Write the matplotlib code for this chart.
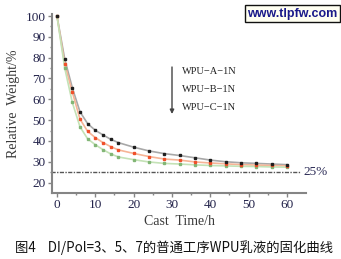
import numpy as np
import matplotlib
matplotlib.use("Agg")
import matplotlib.pyplot as plt

# cast time (h) and relative weight (%) for the three emulsions
cast_time = [0, 2, 4, 6, 8, 10, 12, 14, 16, 20, 24, 28, 32, 36, 40, 44, 48, 52, 56, 60]
weight_a = [100, 79.5, 65.5, 54.0, 48.3, 45.1, 42.9, 40.8, 39.2, 37.0, 35.2, 33.9,
            33.0, 31.9, 30.8, 30.0, 29.5, 29.2, 28.9, 28.6]
weight_b = [100, 77.2, 63.5, 50.5, 44.6, 41.6, 39.2, 37.3, 35.7, 34.0, 32.5, 31.3,
            30.8, 29.9, 29.4, 29.0, 28.6, 28.4, 28.2, 28.0]
weight_c = [100, 75.2, 58.5, 46.8, 41.0, 38.2, 35.8, 33.8, 32.3, 31.0, 29.9, 29.2,
            28.9, 28.5, 28.2, 28.0, 27.8, 27.7, 27.5, 27.4]
series_names = ["WPU\u2212A\u22121N", "WPU\u2212B\u22121N", "WPU\u2212C\u22121N"]
limit_value = 25
x_ticks = [0, 10, 20, 30, 40, 50, 60]
y_ticks = [20, 30, 40, 50, 60, 70, 80, 90, 100]

caption = "图4    DI/Pol=3、5、7的普通工序WPU乳液的固化曲线"
watermark = "www.tlpfw.com"

serif = ["Liberation Serif", "DejaVu Serif"]
spine_col = "#858585"
tick_col = "#22224a"

fig = plt.figure(figsize=(3.41, 2.59), dpi=100)
ax = fig.add_axes([0.1525, 0.255, 0.745, 0.691])

# fitted curves (light) with measured points on top
line_cols = ["#a8a8a8", "#f6b496", "#c4e2b6"]
mark_cols = ["#1e1e1e", "#f0502a", "#82b676"]
for vals, lc in zip([weight_a, weight_b, weight_c], line_cols):
    ax.plot(cast_time, vals, color=lc, lw=1.2, zorder=2)
for vals, mc in zip([weight_c, weight_b, weight_a], mark_cols[::-1]):
    ax.plot(cast_time, vals, ls="none", marker="s", ms=1.7, mec=mc, mfc=mc, zorder=3)

# 25% reference line
ax.plot([-1.5, 63.7], [limit_value, limit_value], color="#555555", lw=1.0,
        dashes=(3, 1, 1, 1), clip_on=False, zorder=1)
ax.text(64.3, limit_value, "25%", fontsize=9.5, family=serif, color="#2a2a55",
        va="center", ha="left", clip_on=False)

ax.set_xlim(-1.3, 65)
ax.set_ylim(15, 101)
ax.set_xticks(x_ticks)
ax.set_xticks(np.arange(5, 65, 10), minor=True)
ax.set_yticks(y_ticks)
ax.set_yticks(np.arange(25, 100, 10), minor=True)

for side in ["top", "right"]:
    ax.spines[side].set_visible(False)
for side in ["left", "bottom"]:
    ax.spines[side].set_color(spine_col)
    ax.spines[side].set_linewidth(1.5)

ax.tick_params(which="major", direction="out", length=3, width=1, color=spine_col,
               labelsize=9.5, labelcolor=tick_col, pad=1.5)
ax.tick_params(which="minor", direction="out", length=1.5, width=1, color=spine_col)
for lab in ax.get_xticklabels() + ax.get_yticklabels():
    lab.set_family(serif)

ax.set_xlabel("Cast  Time/h", fontsize=10, family=serif, color="#3a3a3a", labelpad=3)
ax.set_ylabel("Relative  Weight/%", fontsize=10, family=serif, color="#3a3a3a", labelpad=4)

# legend text with arrow
for i, name in enumerate(series_names):
    fig.text(182 / 341, 1 - (71 + 18.5 * i) / 259, name, fontsize=7.5, family=serif,
             color="#222222", va="center", ha="left")
ax.annotate("", xy=(172 / 341, 1 - 114 / 259), xytext=(172 / 341, 1 - 67 / 259),
            xycoords="figure fraction", textcoords="figure fraction",
            arrowprops=dict(arrowstyle="-|>", color="#444444", lw=1.0,
                            mutation_scale=6, shrinkA=0, shrinkB=0))

# watermark box
fig.text(292.5 / 341, 1 - 13.5 / 259, watermark, fontsize=9, weight="bold",
         family=["Liberation Sans", "DejaVu Sans"], color="#1a1a8a",
         ha="center", va="center",
         bbox=dict(boxstyle="square,pad=0.2", fc="#fffff2", ec="#111111", lw=1))

fig.text(15 / 341, 1 - 248 / 259, caption, fontsize=9.6,
         family=["Noto Sans CJK SC", "DejaVu Sans"], color="#111111",
         ha="left", va="center")

fig.savefig("out.png", dpi=100)
